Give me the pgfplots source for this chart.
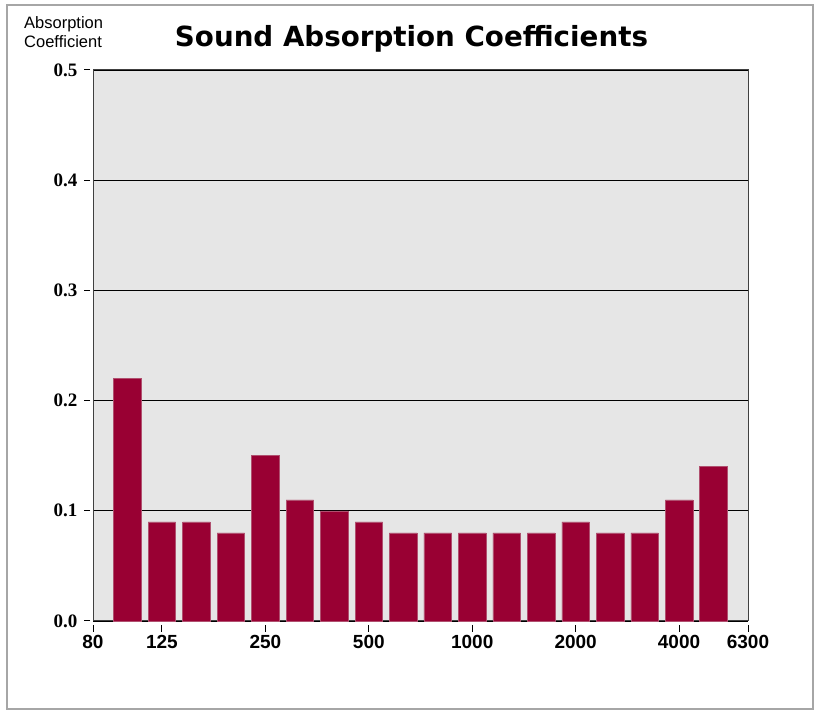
\documentclass[border=0pt]{standalone}
\usepackage{fontspec}
\setmainfont{Liberation Sans}
\newfontfamily\serifb{Liberation Serif}
\newfontfamily\titlefont{DejaVu Sans}
\usepackage{graphicx}
\usepackage{pgfplots}
\pgfplotsset{compat=1.18}
\definecolor{barred}{HTML}{990033}
\definecolor{baredge}{HTML}{B0506F}
\definecolor{bggray}{HTML}{E6E6E6}
\begin{document}
\begin{tikzpicture}
\path (0,0) rectangle (814pt,711pt);
\draw[gray!70, line width=1.5pt] (7pt,2pt) rectangle (813pt,706pt);
\node[anchor=west, align=left, font=\fontsize{16.5}{19}\selectfont, inner sep=0pt] at (24pt,679pt) {Absorption\\Coefficient};
\node at (411.5pt,672pt) {\resizebox{473pt}{!}{\titlefont\bfseries Sound Absorption Coefficients}};
\begin{axis}[
  at={(93pt,90pt)}, anchor=south west,
  scale only axis, width=655pt, height=551pt,
  xmin=0, xmax=19, ymin=0, ymax=0.5,
  clip=false,
  axis background/.style={fill=bggray},
  axis line style={black!75, line width=1pt},
  xtick={0,2,5,8,11,14,17,19},
  xticklabels={80,125,250,500,1000,2000,4000,6300},
  ytick={0,0.1,0.2,0.3,0.4,0.5},
  yticklabels={0.0,0.1,0.2,0.3,0.4,0.5},
  xtick pos=bottom, ytick pos=left,
  major tick length=0pt,
  xticklabel style={font=\fontsize{19}{19}\selectfont\bfseries, yshift=-11pt},
  yticklabel style={font=\fontsize{19}{19}\selectfont\serifb\bfseries, xshift=-12pt},
  ymajorgrids, grid style={black, line width=0.9pt},
]
\addplot[ybar, bar width=0.8, fill=barred, draw=baredge, line width=0.5pt] coordinates {
(1,0.22) (2,0.09) (3,0.09) (4,0.08) (5,0.15) (6,0.11) (7,0.10) (8,0.09) (9,0.08)
(10,0.08) (11,0.08) (12,0.08) (13,0.08) (14,0.09) (15,0.08) (16,0.08) (17,0.11) (18,0.14)
};
\pgfplotsinvokeforeach{0,2,5,8,11,14,17,19}{
  \draw[black, line width=1pt] (axis cs:#1,0) ++(0pt,-4pt) -- ++(0pt,-7pt);
}
\pgfplotsinvokeforeach{0,0.1,0.2,0.3,0.4,0.5}{
  \draw[black, line width=1pt] (axis cs:0,#1) ++(-3pt,0pt) -- ++(-6pt,0pt);
}
\end{axis}
\end{tikzpicture}
\end{document}
